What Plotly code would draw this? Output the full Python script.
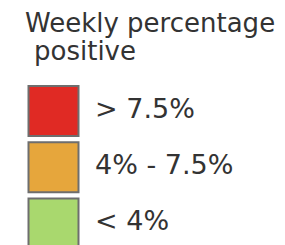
import plotly.graph_objects as go

# Legend data
categories = ["> 7.5%", "4% - 7.5%", "< 4%"]
colors = ["#E02A24", "#E6A63C", "#A9D86E"]
title_lines = ["Weekly percentage", " positive"]

W, H = 285, 245
FONT = "DejaVu Sans"

fig = go.Figure()

# colored squares
fig.add_trace(go.Scatter(
    x=[53.5] * len(categories), y=categories, mode="markers",
    marker=dict(symbol="square", size=50, color=colors,
                line=dict(color="#6E6E6E", width=2)),
    hoverinfo="skip", showlegend=False))

# labels
fig.add_trace(go.Scatter(
    x=[95] * len(categories), y=categories, mode="text",
    text=categories, textposition="middle right",
    textfont=dict(family=FONT, size=27, color="#333333"),
    hoverinfo="skip", showlegend=False))

# title
fig.add_annotation(x=23, y=1 - 23.4 / H, xref="x", yref="paper",
                   text=title_lines[0], showarrow=False,
                   xanchor="left", yanchor="middle",
                   font=dict(family=FONT, size=26, color="#333333"))
fig.add_annotation(x=32, y=1 - 51.4 / H, xref="x", yref="paper",
                   text=title_lines[1].strip(), showarrow=False,
                   xanchor="left", yanchor="middle",
                   font=dict(family=FONT, size=26, color="#333333"))

fig.update_layout(
    width=W, height=H, margin=dict(l=0, r=0, t=0, b=0),
    paper_bgcolor="white", plot_bgcolor="white",
    xaxis=dict(range=[0, W], visible=False, fixedrange=True),
    yaxis=dict(type="category", categoryorder="array", categoryarray=categories,
               range=[2.382, -1.973], visible=False, fixedrange=True),
)

fig.write_html("out.html", config={"staticPlot": True},
               post_script="document.body.style.margin='0';")
